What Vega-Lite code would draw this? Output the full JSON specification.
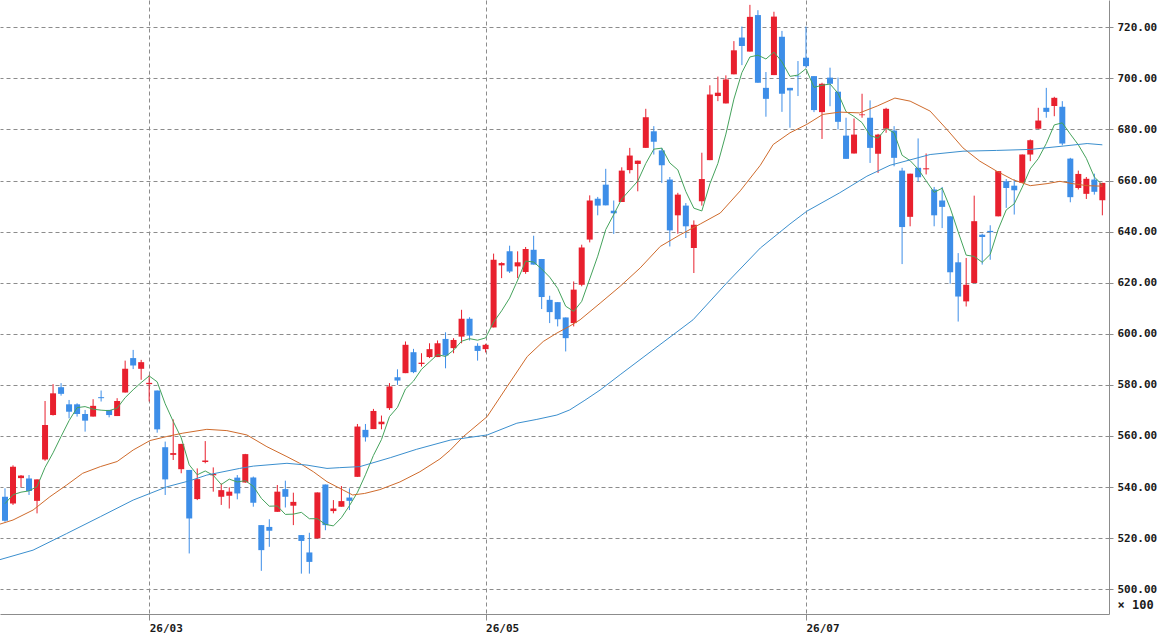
{
  "$schema": "https://vega.github.io/schema/vega-lite/v6.json",
  "width": 1109,
  "height": 614,
  "autosize": {"type": "none"},
  "padding": {"left": 0, "top": 0, "right": 63, "bottom": 22},
  "background": "white",
  "config": {
    "view": {"stroke": null},
    "axis": {
      "domainColor": "#8c8c8c",
      "tickColor": "#8c8c8c",
      "gridColor": "#8c8c8c",
      "gridDash": [4, 3],
      "gridWidth": 1,
      "labelFont": "DejaVu Sans Mono",
      "labelFontWeight": "bold",
      "labelFontSize": 11,
      "labelColor": "#1a1a1a"
    },
    "axisY": {
      "orient": "right",
      "format": ".2f",
      "tickSize": 4,
      "labelPadding": 4,
      "labelBaseline": "middle",
      "grid": true,
      "titleAngle": 0,
      "titleAlign": "left",
      "titleBaseline": "middle",
      "titleX": 8,
      "titleY": 604,
      "titleFont": "DejaVu Sans Mono",
      "titleFontWeight": "bold",
      "titleFontSize": 12,
      "titleColor": "#1a1a1a"
    }
  },
  "datasets": {
    "candles": [
      {"i":0,"o":536.2,"h":539.5,"l":526.4,"c":526.8,"m5":533.5},
      {"i":1,"o":533.6,"h":548.5,"l":533.0,"c":548.0,"m5":537.0},
      {"i":2,"o":543.5,"h":544.7,"l":540.0,"c":544.5,"m5":538.0},
      {"i":3,"o":543.4,"h":544.7,"l":536.9,"c":538.5,"m5":538.5},
      {"i":4,"o":534.6,"h":543.0,"l":529.7,"c":543.0,"m5":540.2},
      {"i":5,"o":550.8,"h":573.7,"l":550.3,"c":564.3,"m5":547.7},
      {"i":6,"o":568.2,"h":580.3,"l":568.0,"c":576.7,"m5":553.4},
      {"i":7,"o":579.1,"h":580.7,"l":575.8,"c":576.5,"m5":559.8},
      {"i":8,"o":572.4,"h":574.1,"l":566.9,"c":569.5,"m5":566.0},
      {"i":9,"o":572.4,"h":572.8,"l":567.6,"c":568.6,"m5":571.1},
      {"i":10,"o":568.6,"h":570.2,"l":561.7,"c":566.0,"m5":571.5},
      {"i":11,"o":567.6,"h":574.4,"l":567.6,"c":571.8,"m5":570.5},
      {"i":12,"o":575.2,"h":577.8,"l":573.5,"c":574.8,"m5":570.1},
      {"i":13,"o":570.2,"h":570.2,"l":567.3,"c":568.2,"m5":569.9},
      {"i":14,"o":567.8,"h":574.8,"l":567.8,"c":573.7,"m5":570.9},
      {"i":15,"o":577.0,"h":589.5,"l":577.0,"c":586.3,"m5":575.0},
      {"i":16,"o":590.5,"h":593.7,"l":586.2,"c":587.6,"m5":578.1},
      {"i":17,"o":586.3,"h":589.8,"l":582.0,"c":588.9,"m5":580.9},
      {"i":18,"o":580.3,"h":583.9,"l":573.5,"c":580.8,"m5":583.5},
      {"i":19,"o":577.8,"h":577.8,"l":561.3,"c":562.6,"m5":581.2},
      {"i":20,"o":555.6,"h":557.8,"l":536.9,"c":543.0,"m5":572.6},
      {"i":21,"o":552.6,"h":566.5,"l":550.6,"c":553.3,"m5":565.7},
      {"i":22,"o":547.0,"h":556.9,"l":545.4,"c":556.9,"m5":559.3},
      {"i":23,"o":546.7,"h":546.7,"l":514.0,"c":527.7,"m5":548.7},
      {"i":24,"o":535.3,"h":547.3,"l":534.9,"c":543.1,"m5":544.8},
      {"i":25,"o":549.8,"h":558.0,"l":549.3,"c":550.4,"m5":546.3},
      {"i":26,"o":544.6,"h":547.7,"l":538.2,"c":545.1,"m5":544.6},
      {"i":27,"o":536.2,"h":541.4,"l":533.0,"c":538.8,"m5":541.0},
      {"i":28,"o":536.6,"h":539.9,"l":531.6,"c":538.2,"m5":543.1},
      {"i":29,"o":543.7,"h":544.7,"l":535.2,"c":537.5,"m5":542.0},
      {"i":30,"o":541.8,"h":553.0,"l":541.7,"c":552.9,"m5":542.5},
      {"i":31,"o":543.7,"h":544.1,"l":532.3,"c":533.9,"m5":540.3},
      {"i":32,"o":525.1,"h":525.1,"l":507.2,"c":515.3,"m5":535.6},
      {"i":33,"o":524.4,"h":527.4,"l":516.6,"c":522.9,"m5":532.5},
      {"i":34,"o":530.3,"h":540.8,"l":530.3,"c":538.2,"m5":532.6},
      {"i":35,"o":539.2,"h":542.5,"l":532.0,"c":536.2,"m5":529.3},
      {"i":36,"o":532.7,"h":537.8,"l":525.1,"c":534.2,"m5":529.4},
      {"i":37,"o":521.2,"h":521.2,"l":506.1,"c":518.9,"m5":530.1},
      {"i":38,"o":514.4,"h":522.1,"l":506.1,"c":510.7,"m5":527.6},
      {"i":39,"o":519.9,"h":537.9,"l":519.9,"c":537.9,"m5":527.6},
      {"i":40,"o":541.0,"h":541.0,"l":523.1,"c":525.1,"m5":525.4},
      {"i":41,"o":530.6,"h":534.9,"l":529.7,"c":531.6,"m5":524.8},
      {"i":42,"o":532.3,"h":540.4,"l":532.3,"c":534.5,"m5":528.0},
      {"i":43,"o":535.9,"h":539.5,"l":531.0,"c":534.6,"m5":532.7},
      {"i":44,"o":544.0,"h":564.7,"l":544.0,"c":563.7,"m5":537.9},
      {"i":45,"o":562.4,"h":564.7,"l":557.8,"c":559.5,"m5":544.8},
      {"i":46,"o":562.7,"h":570.6,"l":562.7,"c":569.8,"m5":552.4},
      {"i":47,"o":564.6,"h":568.0,"l":562.6,"c":565.6,"m5":558.6},
      {"i":48,"o":570.9,"h":580.7,"l":570.2,"c":579.4,"m5":567.6},
      {"i":49,"o":583.0,"h":586.1,"l":580.0,"c":581.7,"m5":571.2},
      {"i":50,"o":584.6,"h":597.0,"l":584.6,"c":595.7,"m5":578.4},
      {"i":51,"o":592.8,"h":594.1,"l":584.6,"c":585.0,"m5":581.5},
      {"i":52,"o":588.2,"h":592.4,"l":587.2,"c":588.7,"m5":586.1},
      {"i":53,"o":590.9,"h":596.3,"l":590.5,"c":594.0,"m5":589.0},
      {"i":54,"o":590.9,"h":597.4,"l":590.9,"c":596.3,"m5":591.9},
      {"i":55,"o":598.0,"h":600.6,"l":586.5,"c":591.5,"m5":591.1},
      {"i":56,"o":594.4,"h":598.3,"l":592.4,"c":597.6,"m5":593.6},
      {"i":57,"o":598.9,"h":609.4,"l":596.3,"c":605.9,"m5":597.1},
      {"i":58,"o":605.9,"h":606.5,"l":597.4,"c":599.3,"m5":598.1},
      {"i":59,"o":595.3,"h":596.3,"l":589.5,"c":593.3,"m5":597.5},
      {"i":60,"o":594.0,"h":596.1,"l":592.7,"c":595.7,"m5":598.4},
      {"i":61,"o":602.5,"h":631.4,"l":602.5,"c":629.0,"m5":604.6},
      {"i":62,"o":626.8,"h":628.0,"l":621.8,"c":627.7,"m5":609.0},
      {"i":63,"o":632.3,"h":634.5,"l":623.8,"c":624.4,"m5":614.0},
      {"i":64,"o":626.4,"h":632.3,"l":621.8,"c":628.0,"m5":621.0},
      {"i":65,"o":624.2,"h":634.0,"l":623.5,"c":633.2,"m5":628.5},
      {"i":66,"o":632.9,"h":638.4,"l":627.1,"c":627.1,"m5":628.1},
      {"i":67,"o":629.3,"h":629.3,"l":609.7,"c":614.4,"m5":625.4},
      {"i":68,"o":613.3,"h":614.9,"l":604.2,"c":608.5,"m5":622.2},
      {"i":69,"o":612.4,"h":612.4,"l":602.9,"c":605.7,"m5":617.8},
      {"i":70,"o":606.4,"h":606.4,"l":593.1,"c":598.3,"m5":610.8},
      {"i":71,"o":604.2,"h":620.5,"l":602.9,"c":617.3,"m5":608.8},
      {"i":72,"o":619.2,"h":634.9,"l":618.6,"c":633.8,"m5":612.7},
      {"i":73,"o":636.9,"h":654.2,"l":635.8,"c":652.2,"m5":621.5},
      {"i":74,"o":652.9,"h":653.6,"l":646.4,"c":650.2,"m5":630.4},
      {"i":75,"o":658.4,"h":664.6,"l":650.3,"c":650.3,"m5":640.8},
      {"i":76,"o":648.2,"h":652.2,"l":639.1,"c":647.2,"m5":646.7},
      {"i":77,"o":651.6,"h":665.2,"l":651.6,"c":663.9,"m5":652.8},
      {"i":78,"o":664.1,"h":672.8,"l":662.8,"c":669.8,"m5":656.3},
      {"i":79,"o":666.5,"h":667.8,"l":655.8,"c":667.8,"m5":659.8},
      {"i":80,"o":672.8,"h":688.1,"l":672.8,"c":684.8,"m5":666.7},
      {"i":81,"o":679.3,"h":681.3,"l":670.2,"c":675.2,"m5":672.3},
      {"i":82,"o":671.8,"h":672.8,"l":659.1,"c":666.0,"m5":672.7},
      {"i":83,"o":660.4,"h":661.4,"l":634.2,"c":640.5,"m5":666.9},
      {"i":84,"o":646.4,"h":655.2,"l":639.2,"c":654.5,"m5":664.2},
      {"i":85,"o":650.2,"h":651.2,"l":637.5,"c":642.1,"m5":655.7},
      {"i":86,"o":633.6,"h":644.4,"l":623.8,"c":642.7,"m5":649.2},
      {"i":87,"o":651.9,"h":670.9,"l":650.2,"c":660.6,"m5":648.1},
      {"i":88,"o":668.0,"h":697.3,"l":668.0,"c":693.7,"m5":658.7},
      {"i":89,"o":693.1,"h":700.7,"l":691.1,"c":694.4,"m5":666.7},
      {"i":90,"o":690.2,"h":701.2,"l":690.2,"c":699.6,"m5":678.2},
      {"i":91,"o":701.6,"h":714.6,"l":701.6,"c":711.0,"m5":691.9},
      {"i":92,"o":716.0,"h":720.3,"l":705.2,"c":712.7,"m5":702.3},
      {"i":93,"o":710.5,"h":728.8,"l":710.5,"c":724.1,"m5":708.4},
      {"i":94,"o":724.8,"h":726.7,"l":698.3,"c":698.3,"m5":709.1},
      {"i":95,"o":696.3,"h":702.5,"l":685.0,"c":692.0,"m5":707.6},
      {"i":96,"o":701.3,"h":726.1,"l":701.3,"c":724.2,"m5":710.3},
      {"i":97,"o":716.3,"h":718.6,"l":686.9,"c":694.0,"m5":706.5},
      {"i":98,"o":696.3,"h":696.3,"l":680.7,"c":695.3,"m5":700.8},
      {"i":99,"o":701.0,"h":706.8,"l":693.1,"c":700.8,"m5":701.3},
      {"i":100,"o":708.1,"h":720.3,"l":704.2,"c":704.8,"m5":703.8},
      {"i":101,"o":700.9,"h":700.9,"l":686.8,"c":687.6,"m5":696.5},
      {"i":102,"o":686.8,"h":698.3,"l":676.3,"c":697.9,"m5":697.3},
      {"i":103,"o":700.3,"h":704.2,"l":689.1,"c":697.9,"m5":697.8},
      {"i":104,"o":694.8,"h":700.3,"l":680.0,"c":683.0,"m5":694.2},
      {"i":105,"o":677.6,"h":684.6,"l":668.5,"c":668.5,"m5":687.0},
      {"i":106,"o":670.6,"h":684.3,"l":670.6,"c":678.0,"m5":685.1},
      {"i":107,"o":685.6,"h":694.0,"l":684.6,"c":685.9,"m5":682.7},
      {"i":108,"o":684.6,"h":691.4,"l":666.9,"c":672.8,"m5":677.6},
      {"i":109,"o":670.5,"h":678.3,"l":663.0,"c":678.0,"m5":676.6},
      {"i":110,"o":680.3,"h":688.5,"l":678.7,"c":688.1,"m5":680.5},
      {"i":111,"o":679.6,"h":681.3,"l":665.6,"c":668.9,"m5":678.7},
      {"i":112,"o":663.9,"h":665.0,"l":627.3,"c":641.8,"m5":669.9},
      {"i":113,"o":645.8,"h":662.7,"l":642.1,"c":662.7,"m5":667.8},
      {"i":114,"o":665.0,"h":676.5,"l":659.7,"c":661.3,"m5":664.5},
      {"i":115,"o":664.4,"h":670.6,"l":662.4,"c":664.8,"m5":659.9},
      {"i":116,"o":656.5,"h":657.5,"l":642.1,"c":646.4,"m5":655.4},
      {"i":117,"o":652.2,"h":657.5,"l":641.4,"c":649.7,"m5":657.0},
      {"i":118,"o":646.0,"h":646.0,"l":619.6,"c":624.1,"m5":649.3},
      {"i":119,"o":628.0,"h":631.6,"l":604.8,"c":614.6,"m5":639.9},
      {"i":120,"o":612.7,"h":629.7,"l":610.7,"c":619.2,"m5":630.8},
      {"i":121,"o":619.9,"h":654.1,"l":619.9,"c":644.1,"m5":630.3},
      {"i":122,"o":638.8,"h":639.2,"l":627.1,"c":637.9,"m5":628.0},
      {"i":123,"o":640.3,"h":642.5,"l":629.0,"c":639.8,"m5":631.1},
      {"i":124,"o":646.0,"h":663.7,"l":646.0,"c":663.7,"m5":640.9},
      {"i":125,"o":659.7,"h":660.6,"l":649.3,"c":657.1,"m5":648.5},
      {"i":126,"o":658.0,"h":660.4,"l":646.7,"c":656.2,"m5":650.9},
      {"i":127,"o":659.1,"h":670.2,"l":659.1,"c":670.2,"m5":657.4},
      {"i":128,"o":670.2,"h":676.1,"l":667.6,"c":675.8,"m5":664.6},
      {"i":129,"o":680.3,"h":688.5,"l":680.3,"c":683.5,"m5":668.6},
      {"i":130,"o":688.5,"h":696.3,"l":684.6,"c":686.9,"m5":674.5},
      {"i":131,"o":689.2,"h":692.8,"l":685.2,"c":692.4,"m5":681.8},
      {"i":132,"o":688.9,"h":691.1,"l":673.8,"c":674.5,"m5":682.6},
      {"i":133,"o":668.6,"h":668.9,"l":651.5,"c":653.5,"m5":678.2},
      {"i":134,"o":657.1,"h":663.9,"l":656.5,"c":662.6,"m5":674.0},
      {"i":135,"o":654.8,"h":661.4,"l":652.8,"c":660.7,"m5":668.7},
      {"i":136,"o":660.4,"h":662.7,"l":654.5,"c":655.6,"m5":661.4},
      {"i":137,"o":652.3,"h":659.1,"l":646.4,"c":659.1,"m5":658.3}
    ],
    "ma25": [
      {"i":-0.62,"v":525.5},{"i":1,"v":527.1},{"i":3.5,"v":531.0},{"i":5.6,"v":536.2},
      {"i":7.7,"v":540.8},{"i":9.7,"v":545.4},{"i":11.9,"v":548.0},{"i":14,"v":550.0},
      {"i":16,"v":554.5},{"i":18.1,"v":558.2},{"i":20.2,"v":559.8},{"i":22.2,"v":561.1},
      {"i":25.2,"v":562.6},{"i":27.7,"v":562.1},{"i":30.2,"v":560.4},{"i":32.7,"v":555.8},
      {"i":35.2,"v":551.9},{"i":36.8,"v":549.3},{"i":38.5,"v":546.0},{"i":40.2,"v":542.1},
      {"i":41.8,"v":539.5},{"i":43.4,"v":536.9},{"i":44.9,"v":537.5},{"i":46.8,"v":539.0},
      {"i":49.3,"v":542.0},{"i":51.8,"v":546.0},{"i":54.3,"v":551.0},{"i":55.6,"v":554.5},
      {"i":57.2,"v":559.7},{"i":60.2,"v":567.6},{"i":62.7,"v":579.4},{"i":65.2,"v":591.1},
      {"i":67.2,"v":597.0},{"i":68.9,"v":600.3},{"i":70.5,"v":603.0},{"i":71.8,"v":605.5},
      {"i":74.3,"v":612.0},{"i":76.8,"v":618.6},{"i":79.3,"v":625.8},{"i":81.8,"v":634.2},
      {"i":84.3,"v":638.8},{"i":86.8,"v":643.0},{"i":89.3,"v":647.3},{"i":91.8,"v":656.0},
      {"i":94.3,"v":666.0},{"i":95.9,"v":674.1},{"i":98,"v":678.7},{"i":100.1,"v":682.0},
      {"i":102.1,"v":685.9},{"i":104.2,"v":686.8},{"i":106.7,"v":686.5},{"i":108.9,"v":689.2},
      {"i":111.1,"v":692.3},{"i":113,"v":691.1},{"i":115.5,"v":687.2},{"i":117.6,"v":680.0},
      {"i":119.6,"v":672.8},{"i":121.7,"v":667.6},{"i":123.8,"v":663.7},{"i":125.8,"v":660.4},
      {"i":128,"v":658.0},{"i":130.1,"v":658.8},{"i":131.7,"v":659.7},{"i":133.3,"v":658.8},
      {"i":135.1,"v":658.0},{"i":137,"v":657.8}
    ],
    "ma75": [
      {"i":-0.62,"v":511.6},{"i":3.5,"v":515.3},{"i":7.7,"v":521.8},{"i":11.9,"v":528.4},
      {"i":16,"v":534.9},{"i":18.1,"v":537.5},{"i":20.2,"v":540.1},{"i":23.1,"v":542.5},
      {"i":25.2,"v":544.7},{"i":29.3,"v":547.3},{"i":31,"v":548.2},{"i":35.2,"v":549.3},
      {"i":37.7,"v":548.6},{"i":40.2,"v":547.3},{"i":41.8,"v":547.6},{"i":44.3,"v":548.0},
      {"i":48.1,"v":551.5},{"i":51.4,"v":554.8},{"i":55.6,"v":558.4},{"i":60.2,"v":560.4},
      {"i":63.9,"v":565.0},{"i":66.4,"v":566.5},{"i":68.9,"v":568.2},{"i":70.5,"v":570.2},
      {"i":72.4,"v":574.0},{"i":74.3,"v":578.0},{"i":76.8,"v":584.0},{"i":80.9,"v":593.7},
      {"i":85.9,"v":605.5},{"i":90.1,"v":619.9},{"i":94.3,"v":633.6},{"i":98,"v":643.0},
      {"i":100.1,"v":648.0},{"i":104.2,"v":655.2},{"i":107.6,"v":661.7},{"i":110.5,"v":666.0},
      {"i":115.5,"v":670.2},{"i":119.6,"v":671.5},{"i":123.8,"v":671.8},{"i":128,"v":672.2},
      {"i":132.1,"v":673.5},{"i":135.1,"v":674.5},{"i":137,"v":674.0}
    ]
  },
  "encoding": {
    "x": {
      "field": "i",
      "type": "quantitative",
      "scale": {"domain": [-0.624, 137.83], "nice": false, "zero": false, "padding": 0},
      "axis": {
        "orient": "bottom",
        "title": null,
        "values": [18, 60, 100],
        "labelExpr": "datum.value == 18 ? '26/03' : datum.value == 60 ? '26/05' : '26/07'",
        "labelAlign": "left",
        "labelBaseline": "top",
        "labelPadding": 2,
        "labelFlush": false,
        "labelOverlap": false,
        "tickSize": 6,
        "grid": true
      }
    }
  },
  "layer": [
    {
      "data": {"name": "candles"},
      "mark": {"type": "rule", "strokeWidth": 1},
      "encoding": {
        "y": {
          "field": "l",
          "type": "quantitative",
          "scale": {"domain": [490.3, 730.7], "nice": false, "zero": false, "padding": 0},
          "axis": {"values": [500, 520, 540, 560, 580, 600, 620, 640, 660, 680, 700, 720], "title": "× 100"}
        },
        "y2": {"field": "h"},
        "color": {
          "condition": {"test": "datum.c >= datum.o", "value": "#e8202e"},
          "value": "#3d8ee8"
        }
      }
    },
    {
      "data": {"name": "candles"},
      "mark": {"type": "bar", "size": 6, "orient": "vertical"},
      "encoding": {
        "y": {
          "field": "o",
          "type": "quantitative",
          "scale": {"domain": [490.3, 730.7], "nice": false, "zero": false, "padding": 0},
          "axis": {"values": [500, 520, 540, 560, 580, 600, 620, 640, 660, 680, 700, 720], "title": "× 100"}
        },
        "y2": {"field": "c"},
        "color": {
          "condition": {"test": "datum.c >= datum.o", "value": "#e8202e"},
          "value": "#3d8ee8"
        }
      }
    },
    {
      "data": {"name": "candles"},
      "mark": {"type": "line", "color": "#45a35c", "strokeWidth": 1, "clip": true},
      "encoding": {
        "y": {
          "field": "m5",
          "type": "quantitative",
          "scale": {"domain": [490.3, 730.7], "nice": false, "zero": false, "padding": 0},
          "axis": {"values": [500, 520, 540, 560, 580, 600, 620, 640, 660, 680, 700, 720], "title": "× 100"}
        }
      }
    },
    {
      "data": {"name": "ma25"},
      "mark": {"type": "line", "color": "#cf6b2c", "strokeWidth": 1, "clip": true},
      "encoding": {
        "y": {
          "field": "v",
          "type": "quantitative",
          "scale": {"domain": [490.3, 730.7], "nice": false, "zero": false, "padding": 0},
          "axis": {"values": [500, 520, 540, 560, 580, 600, 620, 640, 660, 680, 700, 720], "title": "× 100"}
        }
      }
    },
    {
      "data": {"name": "ma75"},
      "mark": {"type": "line", "color": "#3b8fce", "strokeWidth": 1, "clip": true},
      "encoding": {
        "y": {
          "field": "v",
          "type": "quantitative",
          "scale": {"domain": [490.3, 730.7], "nice": false, "zero": false, "padding": 0},
          "axis": {"values": [500, 520, 540, 560, 580, 600, 620, 640, 660, 680, 700, 720], "title": "× 100"}
        }
      }
    }
  ]
}
